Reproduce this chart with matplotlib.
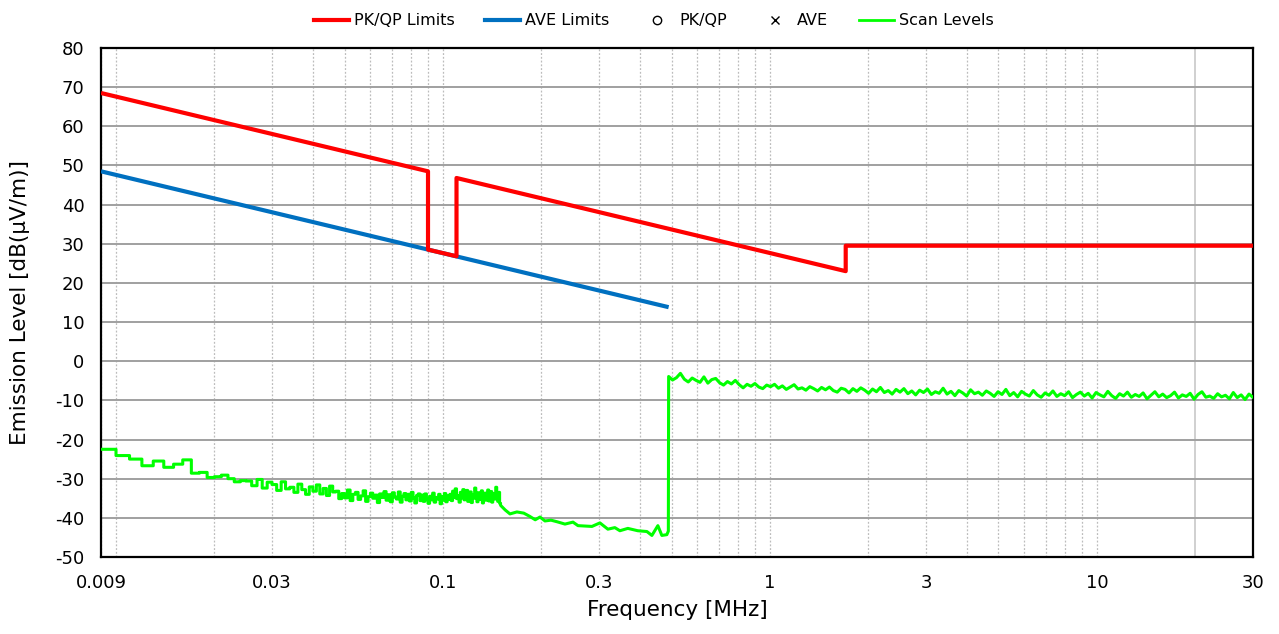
import numpy as np
import matplotlib
matplotlib.use('Agg')
import matplotlib.pyplot as plt
from matplotlib.ticker import FixedLocator, NullFormatter

plt.rcParams['axes.unicode_minus'] = False

# limit lines (MHz, dBuV/m)
pkqp_freq = [0.009, 0.09, 0.09, 0.11, 0.11, 1.705, 1.705, 30]
pkqp_level = [68.5, 48.5, 28.5, 26.8, 46.8, 23.0, 29.5, 29.5]
ave_freq = [0.009, 0.49]
ave_level = [48.5, 13.8]

# scan, 9 kHz .. 150 kHz in 1 kHz bins
low_start = 0.009
low_step = 0.001
low_level = [
    -22.5, -24.1, -25.0, -26.7, -25.5, -27.1, -26.3, -25.2, -28.6, -28.4, -29.7, -29.5, -29.1, -30.0, -30.8, -30.5,
    -30.6, -31.8, -30.2, -32.4, -30.9, -31.5, -33.0, -30.8, -32.6,
    -32.2, -33.5, -31.4, -32.8, -34.0, -32.1, -33.2, -31.6, -33.9, -32.5, -34.3, -31.9, -33.4,
    -33.2, -35.1, -33.8, -34.9, -32.9, -35.6, -34.0, -33.5, -35.3, -34.4, -33.1, -35.8, -34.6, -33.7, -35.0,
    -34.2, -36.1, -33.9, -34.8, -33.3, -35.5, -34.1, -35.9, -33.6, -34.7, -35.2, -33.4, -36.0, -34.5, -33.8,
    -35.4, -34.0, -35.7, -33.5, -34.9, -36.2, -34.3, -33.9, -35.6,
    -34.2, -35.8, -33.9, -35.1, -36.3, -34.5, -35.4, -33.7, -36.0, -34.8, -35.2, -34.0, -36.4, -34.6, -35.5,
    -33.8, -35.9, -34.4, -35.3,
    -34.0, -35.6, -33.2, -34.8, -32.6, -35.1, -34.3, -36.0, -33.5, -34.9, -32.8, -35.4, -34.1, -33.0, -35.8,
    -34.6, -33.4, -36.1, -34.2, -35.0, -32.4, -34.7, -35.9, -33.6, -34.4, -35.3, -33.1, -36.2, -34.8, -33.7,
    -35.5, -34.0, -32.9, -35.7, -34.5, -33.3, -36.0, -34.9, -33.8, -35.2, -32.2, -34.6, -35.8, -33.5, -36.3,
]

# scan, 150 kHz .. 490 kHz
mid_freq = [0.150, 0.155, 0.1603, 0.1683, 0.1766, 0.184, 0.1915, 0.198, 0.2051, 0.214, 0.2232, 0.2361,
            0.2498, 0.2588, 0.2855, 0.302, 0.3194, 0.3355, 0.3476, 0.3676, 0.3942, 0.4204, 0.4355,
            0.4542, 0.4671, 0.4838, 0.489]
mid_level = [-36.8, -38.0, -39.0, -38.5, -38.8, -39.6, -40.5, -39.8, -40.8, -40.6, -41.0, -41.6,
             -41.1, -42.0, -42.2, -41.3, -42.9, -42.5, -43.3, -42.7, -43.3, -43.5, -44.5,
             -42.0, -44.5, -44.3, -43.4]

# scan, 490 kHz .. 30 MHz
hi_start = 0.49
hi_stop = 30
hi_level = [
    -3.9, -4.8, -4.2, -3.1, -4.6, -5.3, -4.3, -4.9, -5.4, -4.0,
    -5.6, -4.7, -4.4, -5.5, -6.1, -5.2, -5.8, -4.9, -6.0, -6.8,
    -5.9, -6.4, -5.7, -6.6, -7.0, -6.1, -6.5, -5.9, -6.9, -6.3,
    -7.2, -6.6, -6.0, -7.1, -6.8, -7.4, -6.5, -7.0, -7.6, -6.7,
    -7.3, -6.6, -7.5, -7.9, -6.9, -7.2, -8.1, -7.0, -7.7, -6.8,
    -7.4, -8.2, -7.1, -7.8, -6.7, -8.0, -7.5, -8.4, -7.2, -7.9,
    -7.0, -8.3, -7.6, -8.6, -7.4, -8.0, -7.1, -8.5, -7.8, -8.2,
    -6.9, -8.4, -7.7, -8.8, -7.5, -8.1, -8.9, -7.3, -8.3, -7.9,
    -8.7, -7.6, -8.2, -9.0, -7.8, -8.5, -7.2, -8.8, -8.0, -9.1,
    -7.7, -8.4, -8.9, -7.5, -8.6, -9.2, -8.1, -8.7, -7.6, -9.0,
    -8.3, -8.8, -7.8, -9.3, -8.5, -7.9, -8.9, -8.2, -9.4, -8.0,
    -8.6, -9.1, -7.7, -8.8, -9.5, -8.3, -8.9, -7.9, -9.2, -8.5,
    -9.0, -8.1, -9.6, -8.7, -7.8, -9.1, -8.4, -9.3, -8.8, -7.9,
    -9.4, -8.6, -9.0, -8.2, -9.7, -8.5, -7.8, -9.2, -8.9, -9.5,
    -8.3, -9.1, -8.7, -9.6, -8.0, -9.3, -8.6, -9.8, -8.4, -9.2,
]

x_ticks = [0.009, 0.03, 0.1, 0.3, 1, 3, 10, 30]
x_tick_labels = ['0.009', '0.03', '0.1', '0.3', '1', '3', '10', '30']

# build scan trace
low_freq = low_start + low_step * np.arange(len(low_level) + 1)
low_step_f = np.repeat(low_freq, 2)[1:-1]
low_step_l = np.repeat(low_level, 2)
hi_freq = np.geomspace(hi_start, hi_stop, len(hi_level))
scan_freq = np.concatenate([low_step_f, mid_freq, hi_freq])
scan_level = np.concatenate([low_step_l, mid_level, hi_level])

fig = plt.figure(figsize=(12.79, 6.34), dpi=100)
ax = fig.add_axes([0.079, 0.1215, 0.9006, 0.8028])

ax.plot(ave_freq, ave_level, color='#0070c0', lw=3, solid_capstyle='butt', zorder=4)
ax.plot(pkqp_freq, pkqp_level, color='#ff0000', lw=3, solid_capstyle='butt', zorder=5)
ax.plot(scan_freq, scan_level, color='#00ff00', lw=2.2, zorder=3)

ax.set_xscale('log')
ax.set_xlim(0.009, 30)
ax.set_ylim(-50, 80)
ax.set_yticks(range(-50, 81, 10))
ax.xaxis.set_major_locator(FixedLocator(x_ticks))
ax.set_xticklabels(x_tick_labels)
ax.xaxis.set_minor_formatter(NullFormatter())
ax.tick_params(axis='both', which='both', length=0, labelsize=13)
ax.tick_params(axis='x', pad=12)
ax.tick_params(axis='y', pad=12)

# grid
ax.grid(axis='y', color='#a0a0a0', lw=1.4, zorder=1)
minor = []
for dec in [0.001, 0.01, 0.1, 1, 10]:
    for m in range(1, 10):
        f = dec * m
        if 0.009 < f < 30 and abs(f - 20) > 1e-9:
            minor.append(f)
for f in minor:
    ax.axvline(f, color='#bcbcbc', lw=0.9, ls=(0, (1.5, 1.5)), zorder=1)
ax.axvline(20, color='#c8c8c8', lw=1.2, zorder=1)

for s in ax.spines.values():
    s.set_linewidth(1.6)
    s.set_color('black')

ax.set_xlabel('Frequency [MHz]', fontsize=15.5, labelpad=6)
ax.set_ylabel('Emission Level [dB(μV/m)]', fontsize=15.5, labelpad=18)

# legend
h1, = ax.plot([], [], color='#ff0000', lw=3)
h2, = ax.plot([], [], color='#0070c0', lw=3)
h3, = ax.plot([], [], ls='none', marker='o', mfc='none', mec='black', ms=6)
h4, = ax.plot([], [], ls='none', marker='x', color='black', ms=6)
h5, = ax.plot([], [], color='#00ff00', lw=2)
fig.legend([h1, h2, h3, h4, h5], ['PK/QP Limits', 'AVE Limits', 'PK/QP', 'AVE', 'Scan Levels'],
           loc='center', bbox_to_anchor=(0.511, 0.967), ncol=5, frameon=False,
           fontsize=11.5, handlelength=2.2, handletextpad=0.3, columnspacing=1.9)

fig.savefig('out.png', dpi=100)
